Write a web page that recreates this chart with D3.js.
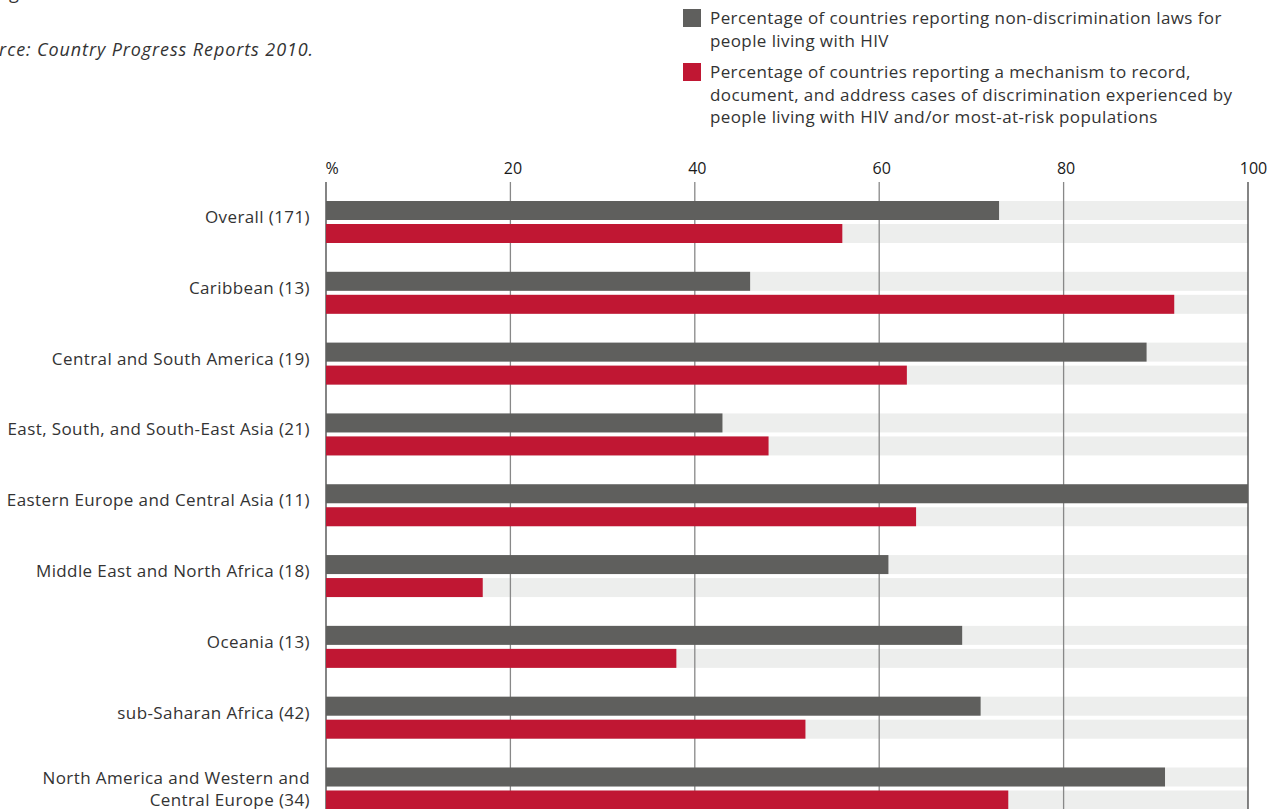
<!DOCTYPE html>
<html><head><meta charset="utf-8">
<script src="https://cdn.jsdelivr.net/npm/d3@7"></script>
<style>
html,body{margin:0;padding:0;background:#fff;}
svg{display:block;font-family:"Open Sans",sans-serif;}
</style></head>
<body><svg id="chart" width="1283" height="809"></svg>
<script>
const categories = [
  ["Overall (171)"],
  ["Caribbean (13)"],
  ["Central and South America (19)"],
  ["East, South, and South-East Asia (21)"],
  ["Eastern Europe and Central Asia (11)"],
  ["Middle East and North Africa (18)"],
  ["Oceania (13)"],
  ["sub-Saharan Africa (42)"],
  ["North America and Western and", "Central Europe (34)"]
];
const lawsValues = [73, 46, 89, 43, 100, 61, 69, 71, 91];
const mechanismValues = [56, 92, 63, 48, 64, 17, 38, 52, 74];
const tickValues = [0, 20, 40, 60, 80, 100];
const tickLabels = ["%", "20", "40", "60", "80", "100"];
const legendLabels = [
  ["Percentage of countries reporting non-discrimination laws for", "people living with HIV"],
  ["Percentage of countries reporting a mechanism to record,", "document, and address cases of discrimination experienced by", "people living with HIV and/or most-at-risk populations"]
];

const GRAY = "#5f5f5d", RED = "#c01733", BG = "#edeeed", TEXT = "#333";
const LS = 0.4;
const svg = d3.select("#chart");

const x = d3.scaleLinear().domain([0, 100]).range([326, 1248]);
const y = d3.scalePoint().domain(d3.range(categories.length)).range([222, 788.5]);
const barH = 19, gap = 4;

// source text (cropped at the left edge, as in the reference)
svg.append("text").attr("x", 9).attr("y", -1).attr("font-size", 18).attr("fill", TEXT).text("g");
svg.append("text").attr("x", 314).attr("y", 56).attr("text-anchor", "end")
  .attr("font-size", 18).attr("letter-spacing", 0.9).attr("font-style", "italic").attr("fill", TEXT)
  .text("Source: Country Progress Reports 2010.");

// legend
const legendColors = [GRAY, RED];
const legendTop = [9, 63];
legendLabels.forEach((lines, i) => {
  svg.append("rect").attr("x", 683).attr("y", legendTop[i]).attr("width", 18).attr("height", 18).attr("fill", legendColors[i]);
  const t = svg.append("text").attr("x", 710).attr("y", legendTop[i] + 15).attr("font-size", 17)
    .attr("letter-spacing", LS).attr("fill", TEXT);
  lines.forEach((l, j) => t.append("tspan").attr("x", 710).attr("dy", j === 0 ? 0 : 22.5).text(l));
});

// background bars
const g = svg.append("g");
categories.forEach((c, i) => {
  const cy = y(i);
  g.append("rect").attr("x", x(0)).attr("y", cy - gap/2 - barH).attr("width", x(100) - x(0)).attr("height", barH).attr("fill", BG);
  g.append("rect").attr("x", x(0)).attr("y", cy + gap/2).attr("width", x(100) - x(0)).attr("height", barH).attr("fill", BG);
});

// gridlines
tickValues.forEach(v => {
  const edge = v === 0 || v === 100;
  svg.append("line").attr("x1", x(v)).attr("x2", x(v)).attr("y1", 182).attr("y2", 809)
    .attr("stroke", edge ? "#333" : "#888").attr("stroke-width", edge ? 1.2 : 1.3);
});

// data bars
svg.append("g").selectAll("rect").data(lawsValues).join("rect")
  .attr("x", x(0)).attr("y", (d, i) => y(i) - gap/2 - barH)
  .attr("width", d => x(d) - x(0)).attr("height", barH).attr("fill", GRAY);
svg.append("g").selectAll("rect").data(mechanismValues).join("rect")
  .attr("x", x(0)).attr("y", (d, i) => y(i) + gap/2)
  .attr("width", d => x(d) - x(0)).attr("height", barH).attr("fill", RED);

// tick labels
const axis = d3.axisTop(x).tickValues(tickValues).tickFormat((d, i) => tickLabels[i]).tickSize(0);
const ax = svg.append("g").attr("transform", "translate(0,177)").call(axis);
ax.select(".domain").remove();
ax.selectAll("text").attr("font-size", 16).attr("fill", "#1a1a1a").attr("font-family", "Open Sans, sans-serif")
  .attr("dy", 0).attr("text-anchor", (d, i) => i === 0 ? "start" : "middle")
  .attr("x", (d, i) => i === 0 ? -1 : (i === 5 ? 5 : 2));

// category labels
categories.forEach((lines, i) => {
  const t = svg.append("text").attr("text-anchor", "end").attr("font-size", 17)
    .attr("letter-spacing", LS).attr("fill", TEXT);
  const n = lines.length;
  lines.forEach((l, j) => t.append("tspan").attr("x", 310)
    .attr("y", n === 1 ? y(i) + 1 : y(i) + 6 + (j - (n - 1) / 2) * 22).text(l));
});
</script></body></html>
